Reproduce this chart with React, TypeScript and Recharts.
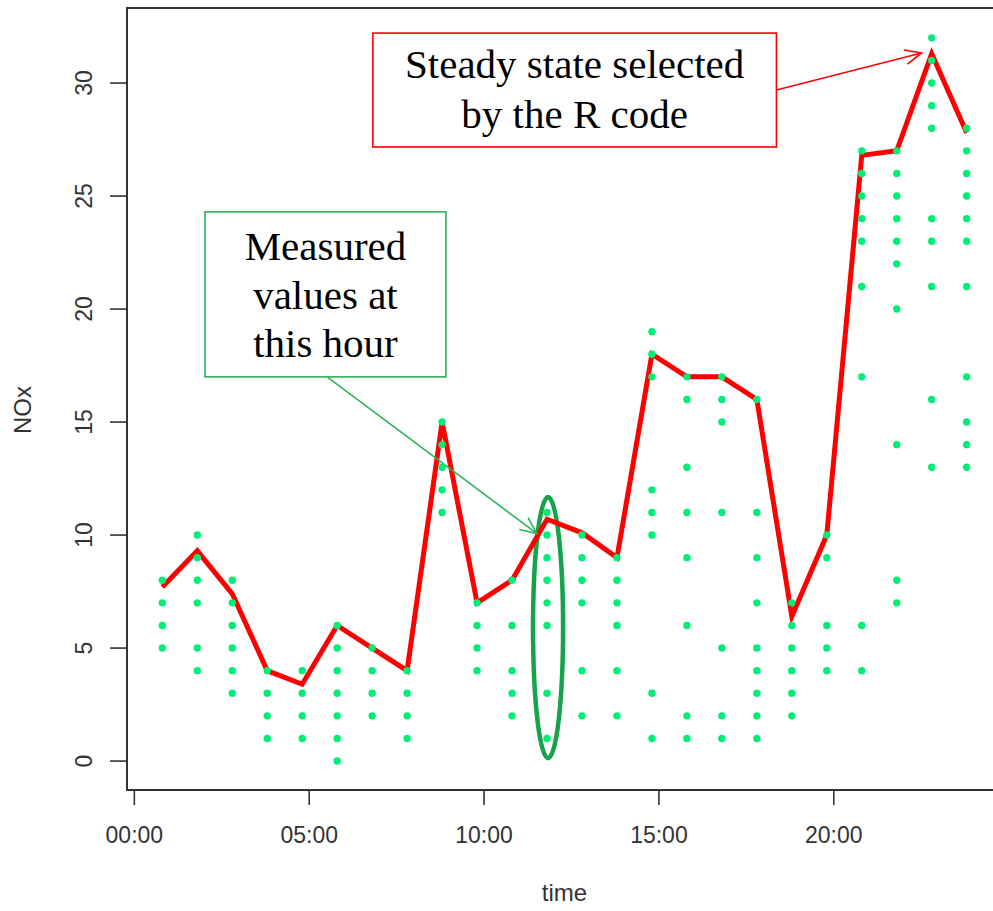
import React from 'react';
import { ComposedChart, XAxis, YAxis, Scatter, Line, ReferenceArea, ReferenceLine } from 'recharts';

// Time of each hourly observation (hours after midnight)
const times = [0.8, 1.8, 2.8, 3.8, 4.8, 5.8, 6.8, 7.8, 8.8, 9.8, 10.8, 11.8, 12.8, 13.8, 14.8, 15.8, 16.8, 17.8, 18.8, 19.8, 20.8, 21.8, 22.8, 23.8];

// Steady state selected by the R code (red line)
const steadyState = [7.7, 9.3, 7.4, 4.0, 3.4, 6.0, 5.0, 4.0, 15.0, 7.0, 8.0, 10.7, 10.1, 9.0, 18.0, 17.0, 17.0, 16.0, 6.4, 10.0, 26.8, 27.0, 31.3, 27.8];

// Measured values at each hour (green dots)
const measured: number[][] = [
  [8, 7, 6, 5],
  [10, 9, 8, 7, 5, 4],
  [8, 7, 6, 5, 4, 3],
  [4, 3, 2, 1],
  [4, 3, 2, 1],
  [6, 5, 4, 3, 2, 1, 0],
  [5, 4, 3, 2],
  [4, 3, 2, 1],
  [15, 14, 13, 12, 11],
  [7, 6, 5, 4],
  [8, 6, 4, 3, 2],
  [11, 10, 9, 8, 7, 6, 3, 1],
  [10, 9, 8, 7, 4, 2],
  [9, 8, 7, 6, 4, 2],
  [19, 18, 17, 12, 11, 10, 3, 1],
  [17, 16, 13, 11, 9, 6, 2, 1],
  [17, 16, 15, 11, 5, 2, 1],
  [16, 11, 9, 7, 5, 4, 3, 2, 1],
  [7, 6, 5, 4, 3, 2],
  [10, 9, 6, 5, 4],
  [27, 26, 25, 24, 23, 21, 17, 6, 4],
  [27, 26, 25, 24, 23, 22, 20, 14, 8, 7],
  [32, 31, 30, 29, 28, 24, 23, 21, 16, 13],
  [28, 27, 26, 25, 24, 23, 21, 17, 15, 14, 13],
];

const xTicks = [0, 5, 10, 15, 20];
const yTicks = [0, 5, 10, 15, 20, 25, 30];
const redNoteLines = ['Steady state selected', 'by the R code'];
const greenNoteLines = ['Measured', 'values at', 'this hour'];

const lineData = times.map((x, i) => ({ x, y: steadyState[i] }));
const dotData = measured.flatMap((vals, i) => vals.map((v) => ({ x: times[i], y: v })));

const AXIS_FONT = '"Liberation Sans", Arial, sans-serif';
const NOTE_FONT = '"Liberation Serif", "Times New Roman", serif';
const RED = '#FF0000';
const GREEN_BOX = '#2DB35A';
const GREEN_ELLIPSE = '#16A34A';
const DOT = '#00EE76';

const fmtTime = (h: number) => `${String(h).padStart(2, '0')}:00`;

const XTick = (props: any) => {
  const { x, y, payload } = props;
  return (
    <text x={x} y={y + 36} textAnchor="middle" fontFamily={AXIS_FONT} fontSize={23} fill="#333">
      {fmtTime(payload.value)}
    </text>
  );
};

const YTick = (props: any) => {
  const { y, payload } = props;
  return (
    <text transform={`translate(92, ${y}) rotate(-90)`} textAnchor="middle" fontFamily={AXIS_FONT} fontSize={23} fill="#333">
      {payload.value}
    </text>
  );
};

const YLabel = (props: any) => {
  const vb = props.viewBox || { x: 0, y: 8, width: 127, height: 782 };
  const cy = vb.y + vb.height / 2 + 11;
  return (
    <text transform={`translate(31, ${cy}) rotate(-90)`} textAnchor="middle" fontFamily={AXIS_FONT} fontSize={24} fill="#333">
      NOx
    </text>
  );
};

const arrowShape = (color: string, width: number) => (props: any) => {
  const { x1, y1, x2, y2 } = props;
  const ang = Math.atan2(y2 - y1, x2 - x1);
  const L = 18;
  const a = 0.42;
  const ax = x2 - L * Math.cos(ang - a);
  const ay = y2 - L * Math.sin(ang - a);
  const bx = x2 - L * Math.cos(ang + a);
  const by = y2 - L * Math.sin(ang + a);
  return (
    <g>
      <line x1={x1} y1={y1} x2={x2} y2={y2} stroke={color} strokeWidth={width} />
      <polyline points={`${ax},${ay} ${x2},${y2} ${bx},${by}`} fill="none" stroke={color} strokeWidth={width} />
    </g>
  );
};

const noteBox = (lines: string[], color: string, offsets: number[]) => (props: any) => {
  const { x, y, width, height } = props;
  return (
    <g>
      <rect x={x} y={y} width={width} height={height} fill="#fff" stroke={color} strokeWidth={1.6} />
      {lines.map((t, i) => (
        <text key={i} x={x + width / 2} y={y + offsets[i]} textAnchor="middle" fontFamily={NOTE_FONT} fontSize={41} fill="#000">
          {t}
        </text>
      ))}
    </g>
  );
};

const ellipseShape = (props: any) => {
  const { x, y, width, height } = props;
  return (
    <ellipse cx={x + width / 2} cy={y + height / 2} rx={width / 2} ry={height / 2} fill="none" stroke={GREEN_ELLIPSE} strokeWidth={4.5} />
  );
};

const dotShape = (p: any) => <circle cx={p.cx} cy={p.cy} r={3.7} fill={DOT} />;

export default function App() {
  return (
    <div style={{ position: 'fixed', left: 0, top: 0, width: 993, height: 911, overflow: 'hidden', background: '#fff' }}>
      <ComposedChart width={1004} height={911} margin={{ top: 8, right: 2, bottom: 0, left: 0 }}>
        <XAxis
          dataKey="x"
          type="number"
          domain={[-0.21, 24.81]}
          ticks={xTicks}
          allowDataOverflow
          height={121}
          tickSize={15}
          tickLine={{ stroke: '#333', strokeWidth: 1.6 }}
          axisLine={false}
          tick={<XTick />}
          label={{ value: 'time', position: 'insideBottom', offset: 10, fontFamily: AXIS_FONT, fontSize: 24, fill: '#333' }}
        />
        <YAxis
          dataKey="y"
          type="number"
          domain={[-1.28, 33.32]}
          ticks={yTicks}
          allowDataOverflow
          width={127}
          tickSize={17}
          tickLine={{ stroke: '#333', strokeWidth: 1.6 }}
          axisLine={false}
          tick={<YTick />}
          label={<YLabel />}
        />
        <ReferenceArea x1={-0.21} x2={24.81} y1={-1.28} y2={33.32} fill="none" stroke="#333" strokeWidth={2} ifOverflow="visible" />
        <Scatter data={dotData} dataKey="y" shape={dotShape} isAnimationActive={false} />
        <Line data={lineData} dataKey="y" type="linear" stroke={RED} strokeWidth={5} dot={false} isAnimationActive={false} />
        <ReferenceArea x1={11.4} x2={12.26} y1={0.13} y2={11.68} shape={ellipseShape} ifOverflow="visible" />
        <ReferenceLine segment={[{ x: 5.53, y: 16.98 }, { x: 11.51, y: 10.07 }]} shape={arrowShape(GREEN_BOX, 1.6)} ifOverflow="visible" />
        <ReferenceLine segment={[{ x: 18.36, y: 29.69 }, { x: 22.51, y: 31.33 }]} shape={arrowShape(RED, 1.6)} ifOverflow="visible" />
        <ReferenceArea x1={6.82} x2={18.36} y1={27.17} y2={32.21} shape={noteBox(redNoteLines, RED, [45, 95])} ifOverflow="visible" />
        <ReferenceArea x1={2.02} x2={8.91} y1={17.0} y2={24.3} shape={noteBox(greenNoteLines, GREEN_BOX, [48, 97, 145])} ifOverflow="visible" />
      </ComposedChart>
    </div>
  );
}
